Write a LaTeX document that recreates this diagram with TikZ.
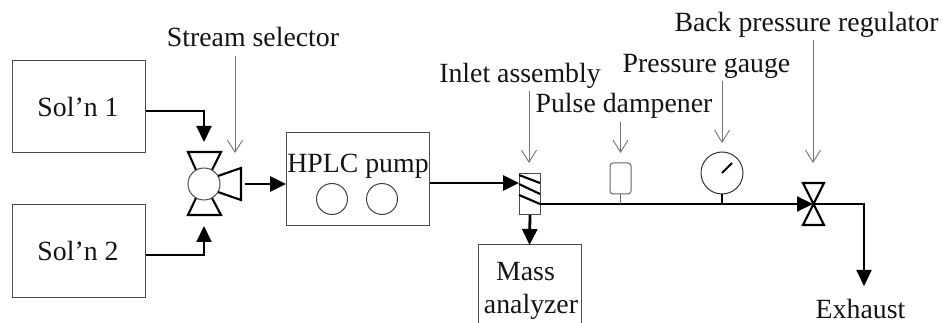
\documentclass[tikz,border=0pt]{standalone}
\usepackage{fontspec}
\setmainfont{Liberation Serif}
\usetikzlibrary{arrows.meta,calc}
\tikzset{
  boxnode/.style={draw=black!70,line width=1pt,inner sep=0pt,anchor=north west},
  lbl/.style={inner sep=0pt,anchor=base,font=\fontsize{27.8}{32}\selectfont,text=black!92},
  flow/.style={draw=black,line width=2.8pt,-{Triangle[length=16pt,width=15pt]}},
  wire/.style={draw=black,line width=2.2pt,-{Triangle[length=16pt,width=15pt]}},
  callout/.style={draw=black!55,line width=0.9pt,-{Straight Barb[length=12pt,width=15pt,line width=0.9pt]}},
  part/.style={draw=black,line width=2.1pt,line join=miter},
  thin part/.style={draw=black!75,line width=1pt},
}
\begin{document}
\begin{tikzpicture}[x=1pt,y=-1pt]
\useasboundingbox (0,0) rectangle (943,323);
% boxes
\node[boxnode,minimum width=133pt,minimum height=92pt] (s1) at (12,60) {};
\node[boxnode,minimum width=133pt,minimum height=93pt] (s2) at (12,204) {};
\node[lbl] at (78,117) {Sol’n 1};
\node[lbl] at (78,261) {Sol’n 2};
\node[boxnode,minimum width=143pt,minimum height=93pt] (pump) at (286,132) {};
\node[lbl] at (358,173) {HPLC pump};
\draw[thin part] (332,199) circle (15.5);
\draw[thin part] (382,199) circle (15.5);
% stream selector
\draw[part] (188,152) -- (221,152) -- (212,170) -- (196,170) -- cycle;
\draw[part] (188,215) -- (221,215) -- (212,198) -- (196,198) -- cycle;
\draw[part] (241,168) -- (241,200) -- (218,192) -- (218,176) -- cycle;
\node[circle,draw=black!70,line width=1pt,fill=white,minimum size=32pt,inner sep=0pt] (sel) at (204,184) {};
\coordinate (selT) at (204,142);
\coordinate (selB) at (204,226);
\coordinate (selR) at (245,184);
\draw[wire] (s1.east|-0,111) -| (selT);
\draw[wire] (s2.east|-0,255) -| (selB);
\draw[flow] (selR) -- (pump.west|-selR);
% inlet assembly
\node[boxnode,minimum width=21pt,minimum height=41pt] (inlet) at (519,173) {};
\draw[part] (519,175) -- (540,183);
\draw[part] (519,184) -- (540,194);
\draw[part] (519,195) -- (540,204);
\draw[flow] (pump.east|-0,183) -- (inlet.west|-0,183);
\node[boxnode,minimum width=102pt,minimum height=85pt,draw=none] (mass) at (478,245) {};
\draw[draw=black!70,line width=1pt] (mass.south west) -- (mass.north west) -- (mass.north east) -- (mass.south east);
\node[lbl] at (525.5,280) {Mass};
\node[lbl] at (531,313) {analyzer};
\draw[flow] (inlet.south) -- (mass.north);
% pulse dampener
\node[draw=black!60,line width=1pt,rounded corners=3pt,minimum width=21pt,minimum height=31pt,inner sep=0pt] (pd) at (620.5,178.5) {};
% gauge
\node[circle,draw=black!80,line width=1pt,minimum size=42pt,inner sep=0pt] (gauge) at (722,173) {};
\draw[part] (722,173) -- (732,163);
% valve
\coordinate (valve) at (813,204);
\draw[part] (803,183) -- (824,183) -- (803,225) -- (824,225) -- cycle;
\coordinate (lineStart) at (540,204);
\coordinate (corner) at (864,204);
\coordinate (exh) at (864,286);
\draw[wire] (lineStart) -- (valve);
\draw[wire] (valve) -- (corner) -- (exh);
\draw[draw=black!60,line width=1pt] (pd.south) -- (pd.south|-lineStart);
\draw[draw=black,line width=2pt] (gauge.south) -- (gauge.south|-lineStart);
% labels and callouts
\node[lbl] (l1) at (253,47) {Stream selector};
\node[lbl] (l2) at (520,83) {Inlet assembly};
\node[lbl] (l3) at (624,113) {Pulse dampener};
\node[lbl] (l4) at (706.5,73) {Pressure  gauge};
\node[lbl] (l5) at (806.5,32) {Back pressure  regulator};
\node[lbl] at (860.5,318) {Exhaust};
\coordinate (c1) at (235,56);
\coordinate (c1e) at (235,153);
\coordinate (c2) at (529,91);
\coordinate (c2e) at (529,163);
\coordinate (c3) at (620.5,122);
\coordinate (c3e) at (620.5,153);
\coordinate (c4) at (722,81);
\coordinate (c4e) at (722,143);
\coordinate (c5) at (813,40);
\coordinate (c5e) at (813,163);
\draw[callout] (c1) -- (c1e);
\draw[callout] (c2) -- (c2e);
\draw[callout] (c3) -- (c3e);
\draw[callout] (c4) -- (c4e);
\draw[callout] (c5) -- (c5e);
\end{tikzpicture}
\end{document}
